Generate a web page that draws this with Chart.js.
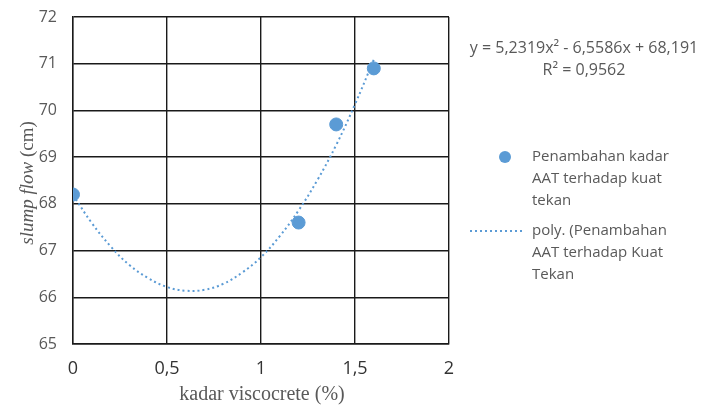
<!DOCTYPE html>
<html><head><meta charset="utf-8">
<script src="https://cdn.jsdelivr.net/npm/chart.js@4/dist/chart.umd.min.js"></script>
<style>html,body{margin:0;padding:0;background:#fff}#wrap{width:702px;height:407px}</style>
</head><body><div id="wrap"><canvas id="c" width="702" height="407"></canvas></div>
<script>
// Data
const kadarX = [0, 1.2, 1.4, 1.6];
const slumpFlow = [68.2, 67.6, 69.7, 70.9];
// trendline points
const trendX = [0,0.1,0.2,0.3,0.4,0.5,0.6,0.7,0.8,0.9,1.0,1.1,1.2,1.3,1.4,1.5,1.6];
const trendY = [68.19,67.59,67.09,66.69,66.41,66.22,66.14,66.16,66.29,66.53,66.86,67.31,67.86,68.51,69.26,70.13,71.09];
const xTicks = [0, 0.5, 1, 1.5, 2];
const yTicks = [65, 66, 67, 68, 69, 70, 71, 72];
const equationLines = ["y = 5,2319x\u00B2 - 6,5586x + 68,191", "R\u00B2 = 0,9562"];
const legendPoint = ["Penambahan kadar", "AAT terhadap kuat", "tekan"];
const legendTrend = ["poly. (Penambahan", "AAT terhadap Kuat", "Tekan"];

const BLUE = '#5b9bd5', GREY = '#595959';
const sans = '"Open Sans", "Liberation Sans", sans-serif';
const serif = '"Liberation Serif", "DejaVu Serif", serif';

const extras = {
  id: 'extras',
  afterDraw(chart) {
    const ctx = chart.ctx; const a = chart.chartArea;
    ctx.save();
    ctx.fillStyle = GREY;
    // x title
    ctx.font = '20px ' + serif;
    ctx.textAlign = 'center'; ctx.textBaseline = 'middle';
    ctx.fillText('kadar viscocrete (%)', 262, 395);
    // y title (rotated, mixed italic)
    ctx.translate(28, 183);
    ctx.rotate(-Math.PI / 2);
    const p1 = 'slump flow', p2 = ' (cm)';
    ctx.font = 'italic 19px ' + serif; const w1 = ctx.measureText(p1).width;
    ctx.font = '19px ' + serif; const w2 = ctx.measureText(p2).width;
    let sx = -(w1 + w2) / 2;
    ctx.textAlign = 'left';
    ctx.font = 'italic 19px ' + serif; ctx.fillText(p1, sx, 0);
    ctx.font = '19px ' + serif; ctx.fillText(p2, sx + w1, 0);
    ctx.setTransform(1, 0, 0, 1, 0, 0);
    // equation
    ctx.font = '16px ' + sans; ctx.textAlign = 'center'; ctx.fillStyle = GREY;
    ctx.fillText(equationLines[0], 584, 48);
    ctx.fillText(equationLines[1], 584, 70);
    // legend
    ctx.font = '15px ' + sans; ctx.textAlign = 'left';
    ctx.fillStyle = BLUE; ctx.beginPath(); ctx.arc(505, 157, 6, 0, Math.PI * 2); ctx.fill();
    ctx.fillStyle = GREY;
    legendPoint.forEach((t, i) => ctx.fillText(t, 532, 157 + i * 22));
    ctx.strokeStyle = BLUE; ctx.lineWidth = 2; ctx.setLineDash([2, 3]);
    ctx.beginPath(); ctx.moveTo(470, 231); ctx.lineTo(523, 231); ctx.stroke();
    ctx.setLineDash([]);
    legendTrend.forEach((t, i) => ctx.fillText(t, 532, 231 + i * 22));
    ctx.restore();
  }
};

new Chart(document.getElementById('c'), {
  type: 'scatter',
  data: {
    datasets: [
      { label: 'trend', data: trendX.map((x, i) => ({x, y: trendY[i]})), showLine: true,
        borderColor: BLUE, borderWidth: 2, borderDash: [2, 3], pointRadius: 0, tension: 0.4, fill: false, order: 2 },
      { label: 'points', data: kadarX.map((x, i) => ({x, y: slumpFlow[i]})),
        backgroundColor: BLUE, borderColor: BLUE, pointRadius: 6.5, order: 1 }
    ]
  },
  plugins: [extras],
  options: {
    responsive: false, animation: false,
    layout: { padding: { top: 17, right: 253, left: 0, bottom: 0 } },
    plugins: { legend: { display: false }, tooltip: { enabled: false } },
    scales: {
      x: {
        type: 'linear', min: 0, max: 2,
        afterBuildTicks: s => { s.ticks = xTicks.map(v => ({value: v})); },
        afterFit: s => { s.height = 63; s.paddingLeft = 0; s.paddingRight = 0; },
        ticks: { color: '#333', font: { size: 18, family: sans }, padding: 14,
          callback: v => String(v).replace('.', ',') },
        grid: { color: '#1a1a1a', lineWidth: 1.4, drawTicks: false },
        border: { color: '#1a1a1a', width: 1.4 }
      },
      y: {
        type: 'linear', min: 65, max: 72,
        afterBuildTicks: s => { s.ticks = yTicks.map(v => ({value: v})); },
        afterFit: s => { s.width = 73; s.paddingTop = 0; s.paddingBottom = 0; },
        ticks: { color: GREY, font: { size: 16, family: sans }, padding: 16 },
        grid: { color: '#1a1a1a', lineWidth: 1.4, drawTicks: false },
        border: { color: '#1a1a1a', width: 1.4 }
      }
    }
  }
});
</script></body></html>
